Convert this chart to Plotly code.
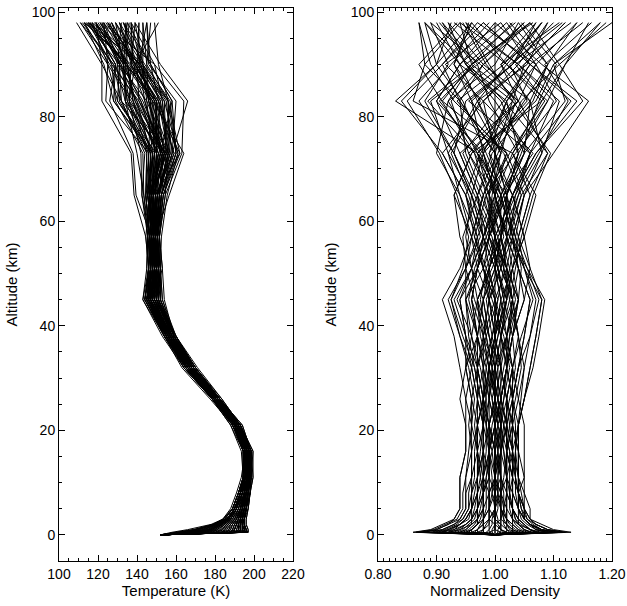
import plotly.graph_objects as go

# Altitude levels of the retrieved profiles (km)
ALTITUDE_KM = [0, 0.5, 1, 2, 3, 5, 8, 11, 16, 21, 26, 32, 38, 45, 51, 57, 65, 73, 83, 90, 98]

# Reference temperature profile (K) at each altitude level
T_REFERENCE = [152, 184, 187, 189, 191, 193, 195, 196.5, 196.5, 191, 180.5, 167, 157,
               148, 149, 148.5, 148.5, 152, 144, 137, 131]

# Temperature departures of each ensemble member from the reference (K)
TEMP_ANOMALY = [
    [0, 0, 0, 0, 0, 0, 0, 0, 0, 0, 0, 0, 0, 0, 0, 0, 0, 0, 0, 0, 0],
    [0, 12, 9, 6, 4, 3, 2, 2, 1, 2, 1, 0, -1, -2, 1, 2, 3, 5, 8, 4, 10],
    [0, -26, -21, -11, -7, -4, -3, -2, -2, -1, 0, 1, 2, 3, 0, -1, -3, -6, -20, -12, -20],
    [0, 8, 6, 4, 3, 2, 1, 1, 2, 1, 2, 3, 2, 5, 3, 2, 4, 8, 14, 10, 14],
    [0, 5, 3, 2, 1, 0, 0, -1, 0, -1, -2, -2, -1, -3, -2, 0, -2, -5, -4, -6, -8],
    [0, -15, -12, -8, -5, -3, -2, -1, -1, 0, 1, 2, 1, 0, 2, 3, 5, 10, 12, 6, 2],
    [0, 13, 10, 7, 5, 4, 3, 3, 3, 2, 3, 3, 2, 4, 1, -2, -4, -3, 4, -2, -6],
    [0, 2, 0, -1, -1, -1, 0, 0, -1, 1, 0, -1, -2, -4, -3, -2, 0, 3, -8, -4, 4],
    [0, -20, -16, -9, -6, -4, -3, -2, -2, -2, -1, -2, -3, -2, -1, 1, 2, -2, -14, -6, -12],
    [0, 10, 8, 5, 4, 3, 2, 1, 2, 3, 2, 1, 0, 1, 4, 3, -1, 1, 2, 8, 12],
    [0, -5, -6, -4, -3, -2, -1, -1, 0, 0, -1, 0, 1, 2, 1, -1, -9, -14, -18, -8, -15],
    [0, 7, 4, 3, 2, 2, 1, 0, -1, -2, -1, 1, 2, 6, 4, 3, 6, 11, 20, 12, 6],
    [0, -10, -9, -6, -4, -3, -2, -2, -3, -3, -2, -3, -2, -1, -3, -4, -2, 2, 6, 2, -4],
    [0, 11, 7, 5, 3, 3, 3, 2, 2, 1, 0, -1, -3, -4, -2, 0, 2, 4, -3, -10, -16],
    [0, 0, -2, -2, -1, 0, 1, 1, 1, 0, 1, 2, 3, 2, 3, 4, 7, 9, 10, 6, 8],
    [0, -24, -18, -10, -7, -5, -4, -3, -1, -1, -2, -3, -2, -3, -1, -2, -4, -7, -6, -2, -10],
    [0, 9, 6, 4, 2, 1, 0, 0, 1, 2, 3, 4, 3, 1, 0, 1, 3, -2, 6, 3, 2],
    [0, 4, 2, 1, 1, 0, -1, -2, -2, -1, 0, 0, -1, -2, -4, -3, -1, 3, -12, -15, -22],
    [0, -12, -10, -7, -4, -2, -1, 0, 1, 1, 2, 1, 0, 0, 2, 2, 4, 6, 16, 9, 14],
    [0, 12, 8, 6, 4, 3, 2, 1, 0, -1, -2, -2, -3, -5, -4, -3, -5, -12, -10, -4, -2],
    [0, -2, -3, -3, -2, -1, 0, 1, 2, 2, 1, 0, 1, 3, 2, 1, 8, 12, 4, 0, 6],
    [0, 6, 5, 3, 2, 2, 2, 2, 1, 0, -1, -1, 0, -2, 0, 2, 0, -4, -16, -8, -14],
    [0, -18, -14, -8, -5, -3, -2, -1, -1, -1, 0, 1, 2, 4, 3, 1, -1, 0, 2, 5, 6],
    [0, 13, 9, 6, 4, 3, 2, 1, 1, 1, 1, 2, 1, -1, -2, -1, 2, 5, 12, 14, 18],
    [0, 1, 1, 0, 0, 0, 1, 0, -1, -2, -3, -4, -3, -3, -1, 0, -3, -6, 3, -3, -4],
    [0, -7, -7, -5, -3, -2, -2, -1, 0, 1, 2, 3, 3, 3, 2, -1, 1, 7, 7, 2, 0],
    [0, 10, 7, 5, 4, 3, 3, 3, 2, 2, 1, 1, 0, 2, 1, 0, -2, -1, -6, -11, -18],
    [0, -22, -17, -10, -6, -4, -3, -2, -1, 0, 0, -1, -2, -4, -3, -2, -6, -10, -8, 0, 8],
    [0, 3, 3, 2, 1, 1, 0, 0, 0, -1, 0, 1, 1, 0, -1, 1, 4, 3, 10, 4, -6],
    [0, 8, 5, 3, 2, 1, 0, -1, -2, -2, -1, -2, -2, -3, -2, -3, -6, -8, -12, -6, 4],
    [0, -9, -7, -5, -3, -2, -1, 0, 0, 1, 1, 2, 2, 1, 0, 2, 3, 1, -3, 3, 10],
    [0, 11, 8, 5, 3, 2, 1, 1, 2, 3, 2, 2, 3, 5, 3, 2, 5, 9, 7, 10, 2],
    [0, -4, -4, -3, -2, -2, -2, -2, -2, -1, -2, -1, -1, -2, 0, 1, -1, -4, -14, -12, -8],
    [0, 6, 3, 2, 1, 1, 1, 1, 0, 0, 1, 0, -1, 0, 1, 0, 2, 4, 1, 6, 12],
    [0, -14, -11, -7, -5, -3, -2, -1, 0, 0, -1, -2, -1, -2, -2, -2, -1, -3, 6, 2, -2],
    [0, 12, 9, 6, 4, 4, 3, 2, 2, 1, 0, -1, -2, -1, 1, 3, 4, 6, 22, 15, 8],
    [0, -1, -2, -1, 0, 0, 0, 0, 1, 2, 2, 3, 2, 2, 3, 1, -1, -2, -2, -4, -10],
    [0, 9, 6, 4, 2, 1, 1, 0, -1, -1, -2, -3, -4, -5, -3, -4, -10, -15, -22, -15, -12],
    [0, -16, -13, -8, -5, -3, -2, -1, -1, -1, -1, 0, 1, 2, 2, 3, 6, 4, 12, 8, 16],
    [0, 4, 2, 1, 0, 0, 1, 2, 2, 1, 2, 2, 1, 0, -1, -1, 0, 2, -5, -2, 3],
    [0, 7, 5, 4, 3, 2, 2, 1, 0, -1, -1, -2, -1, -1, 1, 2, 1, -2, 8, 6, -2],
    [0, -11, -9, -6, -4, -3, -2, -2, -1, -1, 0, 0, -1, -3, -2, -2, -4, -6, -10, -3, -16],
    [0, 10, 7, 5, 3, 2, 1, 0, 0, 1, 1, 1, 2, 3, 2, 0, 2, 5, 3, 1, 6],
    [0, -3, -3, -2, -1, -1, -1, -1, -2, -3, -2, -2, -2, -1, 0, 1, 3, 2, -2, -7, 1],
    [0, 12, 9, 6, 4, 3, 2, 2, 3, 2, 2, 3, 3, 2, 1, -1, -3, -4, -8, 2, 20],
    [0, -8, -8, -5, -4, -3, -2, -1, 0, 0, 0, -1, 0, 1, -1, -3, -2, 0, 14, 10, 4],
    [0, 5, 3, 2, 2, 1, 1, 1, 1, 0, -1, 0, 0, -2, -1, 0, 1, 10, 5, -1, -8],
    [0, -19, -15, -9, -6, -4, -3, -2, -2, -2, -2, -3, -3, -4, -2, 0, -2, -5, -16, -14, -18],
    [0, 8, 6, 4, 3, 2, 1, 1, 0, 0, 0, 1, 0, 1, 1, 1, 1, -1, 0, 4, 14],
    [0, -13, -10, -6, -4, -3, -2, -1, -1, 0, 0, 1, 1, 3, 2, 0, 3, 4, 9, 3, -14],
    [0, 11, 8, 6, 4, 3, 2, 2, 2, 2, 2, 2, 1, 0, -1, -2, -1, 1, -4, -9, -20],
    [0, -6, -5, -4, -3, -2, -1, -1, -1, -2, -1, -1, 0, -1, -2, -1, 2, 6, 11, 5, -16],
    [0, 9, 7, 5, 3, 2, 2, 1, 1, 0, 1, 1, 2, 4, 3, 3, 1, -3, -9, -5, -12],
    [0, -21, -16, -9, -6, -4, -3, -2, -1, -1, -1, -2, -2, -3, -1, 1, 0, 2, 5, 0, -18],
    [0, 2, 1, 0, 0, 1, 1, 1, 0, 0, -1, -1, -2, -1, 0, -1, -3, -1, -7, -12, -14],
    [0, 13, 10, 7, 5, 4, 3, 2, 2, 2, 1, 0, 0, 1, 2, 2, 4, 7, 6, -3, -5],
    [0, -9, -8, -6, -4, -3, -2, -2, -1, 0, 1, 1, 0, -2, -3, -2, -5, -9, -15, -10, -12],
    [0, 6, 4, 3, 2, 1, 0, 0, 1, 1, 0, -1, -1, 0, 1, 2, 5, 8, 13, 7, 0],
    [0, -17, -13, -8, -5, -3, -2, -2, -2, -1, -2, -2, -3, -4, -3, -1, -2, -4, 1, -6, -17],
    [0, 10, 7, 5, 3, 3, 2, 1, 0, -1, -1, 0, 1, 2, 0, -2, 0, 3, 9, 12, -9],
    [0, -1, -1, -1, -1, 0, 0, 1, 1, 1, 2, 2, 2, 3, 1, 0, 1, -2, -5, -3, 5],
    [0, 7, 5, 3, 2, 2, 1, 1, 0, -1, -1, -2, -2, -3, -1, 1, 3, 1, -10, -8, -15],
    [0, -11, -9, -6, -4, -2, -1, 0, 0, 0, 1, 1, 2, 2, 1, 2, -1, -3, 3, 6, -10],
    [0, 12, 9, 6, 4, 3, 2, 2, 1, 1, 1, 2, 3, 4, 2, 0, -1, 0, 5, 2, -7],
    [0, -4, -4, -3, -2, -1, -1, -1, 0, 0, -1, -1, -2, -3, -2, -2, -4, -7, -12, -9, -19],
    [0, 4, 3, 2, 1, 1, 1, 0, 0, 1, 1, 0, -1, -1, 0, 1, 2, 4, 7, 1, -4],
    [0, -23, -18, -10, -7, -4, -3, -2, -1, -1, 0, 0, 1, 2, 1, 0, -3, -5, -9, -4, -11],
    [0, 8, 6, 4, 3, 2, 2, 1, 1, 0, 0, -1, -2, -2, 0, 1, 0, 3, 2, 5, -13],
    [0, -7, -6, -4, -3, -2, -2, -1, -1, -1, -1, 0, 0, 1, 1, -1, -2, 1, 4, -2, -15],
    [0, 11, 8, 5, 4, 3, 3, 2, 2, 1, 0, 0, -1, -2, -2, -3, -2, -5, -13, -7, -9],
    [0, -14, -11, -7, -5, -3, -2, -1, 0, 1, 1, 2, 2, 3, 3, 2, 4, 8, 12, 4, -6],
    [0, 3, 2, 1, 1, 1, 0, 0, -1, -1, 0, 0, 0, -1, 0, 0, 1, 2, -1, -5, -12],
    [0, 9, 6, 4, 3, 2, 1, 1, 1, 2, 2, 1, 0, -1, -1, 0, -2, -4, -6, -2, -17],
]

# Density departures of each ensemble member from the reference (percent)
DENSITY_ANOMALY_PCT = [
    [0, 0, 0, 0, 0, 0, 0, 0, 0, 0, 0, 0, 0, 0, 0, 0, 0, 0, 0, 0, 0],
    [0, 10, 8, 6, 5, 5, 5, 4, 4, 4, 5, 6, 7, 8, 5, 3, 2, -3, -8, -4, 6],
    [0, -13, -10, -8, -7, -6, -6, -6, -5, -5, -6, -5, -3, -2, -1, 1, 3, 6, 10, 4, -5],
    [0, 3, 2, 2, 1, 1, 1, 0, 0, 1, 2, 3, 2, 0, -2, -3, -5, -9, -16, -10, -12],
    [0, -5, -4, -3, -3, -2, -2, -2, -3, -3, -2, -1, 0, 2, 3, 4, 6, 3, 8, 12, 18],
    [0, 7, 6, 5, 4, 3, 3, 3, 2, 2, 1, 0, -2, -4, -3, -2, 1, 4, 2, -6, -10],
    [0, -8, -7, -5, -4, -4, -3, -3, -3, -4, -5, -6, -7, -9, -6, -4, -2, 1, -4, 3, 8],
    [0, 1, 1, 1, 0, 0, 0, 1, 1, 2, 3, 4, 5, 6, 4, 2, 0, -2, 6, 9, 4],
    [0, 12, 9, 7, 6, 5, 4, 4, 3, 2, 1, 0, -1, -2, 0, 1, 3, 7, 14, 6, -2],
    [0, -3, -2, -2, -1, -1, 0, 0, 1, 1, 0, -1, -2, -3, -4, -5, -4, -2, -10, -6, 2],
    [0, 5, 4, 3, 3, 3, 2, 2, 2, 3, 4, 5, 4, 3, 2, 0, -3, -6, 4, 1, 11],
    [0, -11, -9, -7, -6, -5, -5, -4, -4, -3, -2, 0, 2, 4, 3, 2, 4, 8, 6, -2, -8],
    [0, 2, 1, 0, 0, -1, -1, -1, -2, -2, -3, -4, -6, -8, -5, -3, 0, 3, -14, -12, -6],
    [0, -6, -5, -4, -3, -3, -2, -2, -1, 0, 1, 2, 3, 5, 6, 5, 3, -1, 2, 7, 14],
    [0, 9, 7, 6, 5, 4, 4, 5, 5, 5, 4, 3, 1, 0, -2, -4, -7, -4, 8, 2, -4],
    [0, -1, -1, -1, -1, 0, 0, 0, 0, -1, -1, -2, -2, -1, 1, 3, 5, 10, 16, 8, 0],
    [0, -9, -7, -6, -5, -4, -4, -3, -2, -2, -3, -3, -4, -5, -2, 0, -2, -5, -6, -12, -13],
    [0, 4, 3, 3, 2, 2, 2, 1, 0, -1, -2, -3, -3, -2, 0, 2, 2, 0, -2, 4, 9],
    [0, 13, 10, 8, 6, 6, 5, 5, 4, 4, 3, 2, 3, 4, 2, -1, -4, -8, -11, -3, 5],
    [0, -4, -3, -2, -2, -2, -1, -1, -1, 0, 0, 1, 0, -1, -2, -1, 1, 5, 12, 10, 20],
    [0, 6, 5, 4, 3, 2, 2, 2, 3, 3, 2, 1, -1, -3, -1, 1, 4, 6, 0, -5, -9],
    [0, -12, -10, -8, -6, -5, -5, -5, -4, -4, -4, -5, -5, -6, -4, -3, -6, -10, -8, 0, 4],
    [0, 0, 0, 0, 1, 1, 1, 2, 2, 2, 3, 4, 6, 7, 5, 4, 6, 9, 4, -4, -6],
    [0, 8, 6, 5, 4, 4, 3, 3, 3, 2, 2, 1, 0, 1, 3, 5, 3, 0, -6, -9, -3],
    [0, -7, -6, -4, -3, -3, -2, -1, -1, -1, 0, 0, -1, -2, -4, -6, -7, -4, 3, 5, 12],
    [0, 3, 3, 2, 2, 1, 1, 1, 1, 0, -1, -1, 0, 2, 2, 1, -1, -3, -17, -10, -4],
    [0, -2, -2, -2, -2, -1, -1, -2, -2, -3, -4, -5, -4, -3, -1, 1, 2, 4, 9, 12, 16],
    [0, 11, 8, 6, 5, 4, 3, 3, 2, 2, 1, 2, 3, 5, 4, 2, 0, -2, 2, 6, -2],
    [0, -10, -8, -6, -5, -4, -4, -4, -3, -2, -1, 0, 1, 2, 0, -2, -4, -7, -12, -8, -11],
    [0, 5, 4, 3, 2, 2, 1, 0, 0, 1, 1, 2, 2, 3, 1, -1, 2, 5, 6, 1, 7],
    [0, -5, -4, -3, -2, -1, -1, 0, 0, 0, 1, 1, 0, -1, -3, -4, -2, 1, -3, -6, -12],
    [0, 1, 0, 0, -1, -1, -1, 0, 1, 2, 2, 3, 4, 3, 1, 0, 3, 7, 15, 11, 6],
    [0, 7, 6, 5, 4, 3, 3, 2, 1, 0, -1, -2, -3, -4, -3, -2, -4, -7, -5, 3, 10],
    [0, -8, -6, -5, -4, -3, -3, -3, -2, -2, -2, -3, -2, 0, 2, 3, 1, -3, 4, 7, 2],
    [0, 2, 2, 1, 1, 1, 0, 0, 0, 0, 1, 2, 1, -1, -1, -2, 0, 2, -9, -4, 3],
    [0, -14, -11, -9, -7, -6, -6, -6, -5, -5, -5, -4, -3, -4, -3, -1, 2, 5, 1, -5, -8],
    [0, 9, 7, 6, 5, 4, 4, 4, 4, 3, 3, 4, 5, 6, 4, 3, 5, 8, 11, 4, -6],
    [0, -3, -3, -2, -2, -2, -2, -1, -1, -1, -2, -2, -3, -5, -5, -4, -6, -8, -3, 2, 8],
    [0, 4, 3, 2, 2, 1, 1, 1, 1, 1, 0, -1, 0, 1, 0, 1, 1, -1, 5, 9, 14],
    [0, -6, -5, -4, -4, -3, -3, -2, -2, -1, 0, 1, 2, 3, 2, 0, -1, 2, -7, -11, -13],
    [0, 6, 5, 4, 4, 3, 3, 3, 3, 4, 5, 6, 7, 8, 6, 4, 2, 0, 3, -1, -5],
    [0, -1, 0, 0, 0, 0, 1, 1, 0, -1, -2, -3, -5, -7, -4, -2, -3, -6, -10, -6, 0],
    [0, 10, 8, 6, 5, 5, 4, 3, 2, 1, 0, -1, -2, -1, 1, 2, 0, -3, 7, 10, 18],
    [0, -4, -4, -3, -3, -2, -2, -2, -1, 0, 1, 2, 3, 4, 2, 1, 2, 4, -1, -3, -9],
    [0, 2, 1, 1, 0, 0, 0, -1, -1, -2, -2, -1, 0, 0, -1, 0, 3, 6, 13, 6, 1],
    [0, -9, -8, -6, -5, -4, -3, -3, -3, -3, -3, -4, -5, -6, -3, -1, -1, 0, -6, -2, 6],
    [0, 7, 6, 4, 3, 3, 2, 2, 2, 3, 3, 3, 2, 1, 0, -2, -5, -9, -2, 5, 12],
    [0, -2, -2, -1, -1, 0, 0, 0, -1, -1, 0, 0, 1, 2, 3, 5, 7, 3, 9, 2, -7],
    [0, 12, 9, 7, 6, 5, 4, 4, 4, 3, 2, 1, 1, 3, 4, 3, 1, -2, -4, -7, -4],
    [0, -12.5, -9, -7, -5.5, -4.5, -4, -3.5, -3.5, -3, -2, -1.5, -0.5, 1.5, 2.5, 3.5, 5, 2, -3, 5.5, 9],
    [0, 8.5, 7, 5.5, 4.5, 4, 3.5, 3.5, 3, 2.5, 2, 3, 4.5, 6.5, 5, 2.5, -1, -4.5, 4, -2.5, -11],
    [0, -1.5, -1, -0.5, -0.5, 0, 0.5, 0.5, 0.5, 1, 1.5, 2.5, 1.5, -0.5, -2, -3.5, -1.5, 3.5, 10.5, 7, -3],
    [0, 4.5, 3.5, 2.5, 2, 1.5, 1.5, 1, 0.5, 0, -0.5, -1.5, -3, -4.5, -3.5, -1.5, 1.5, 6.5, -2, -8.5, 1],
    [0, -6.5, -5.5, -4.5, -3.5, -3, -2.5, -2, -1.5, -1.5, -1.5, -2.5, -4, -6.5, -4, -2, 0.5, -3.5, -11.5, -4, 6.5],
    [0, 11.5, 9, 7, 5.5, 5, 4.5, 4, 3.5, 3.5, 3, 2, 1, 2.5, 3.5, 4.5, 6.5, 9.5, 3, -5, 3.5],
    [0, -3.5, -3, -2.5, -2, -1.5, -1.5, -1.5, -1, -0.5, 0.5, 1.5, 2.5, 3, 1.5, 0.5, -2.5, -5.5, 1.5, 6, 15],
    [0, 2.5, 2, 1.5, 1.5, 1, 0.5, 0.5, 1, 1.5, 2.5, 3.5, 3, 1.5, 0.5, -0.5, -3.5, -7, -13, -7.5, -1],
    [0, -10.5, -8.5, -6.5, -5.5, -4.5, -4.5, -4, -4, -4.5, -4, -3, -1.5, 0.5, -1.5, -3.5, -5, -2.5, 5.5, 2.5, 11.5],
    [0, 6.5, 5, 4, 3.5, 3, 2.5, 2, 1.5, 1, 0.5, 0.5, -0.5, -1.5, 0.5, 2.5, 4.5, 1.5, -6.5, 1.5, 8],
    [0, -0.5, -0.5, 0, 0, 0.5, 0.5, 0, -0.5, -1.5, -2.5, -3.5, -4.5, -5, -3, -1, 1.5, 4.5, 7.5, 10.5, 4.5],
    [0, 9.5, 7.5, 6, 5, 4.5, 4, 3.5, 3.5, 4, 4.5, 5, 6, 7.5, 5.5, 3.5, 1.5, -1.5, -5.5, -10, -7.5],
    [0, -5.5, -4.5, -3.5, -3, -2.5, -2, -1.5, -0.5, 0.5, 1.5, 2, 2.5, 4, 4.5, 3.5, 0.5, -2.5, -9.5, -3.5, -9.5],
    [0, 3.5, 2.5, 2, 1.5, 1.5, 1, 1.5, 2, 2.5, 3.5, 4.5, 4, 2.5, 1.5, 0, -1.5, 2.5, 8.5, 3.5, 13],
    [0, -13.5, -10.5, -8.5, -6.5, -5.5, -5.5, -5, -4.5, -4, -3.5, -4.5, -6, -7.5, -5.5, -4.5, -6.5, -9.5, -15, -9, -2],
    [0, 1.5, 1, 0.5, 0.5, 0, -0.5, -0.5, -1, -1.5, -1, -0.5, 0.5, 1.5, 0.5, -1, -0.5, 1, 3.5, -1.5, -5.5],
    [0, 7.5, 6, 4.5, 3.5, 3, 2.5, 2.5, 2.5, 1.5, 0.5, -0.5, -1.5, -2.5, -1.5, 0.5, 3.5, 7.5, 12.5, 8.5, 16.5],
    [0, -7.5, -6.5, -5, -4, -3.5, -3, -2.5, -2, -2, -2.5, -3.5, -5.5, -7.5, -5, -2.5, -4.5, -7.5, -2.5, -7, -4.5],
    [0, 5.5, 4.5, 3.5, 3, 2.5, 2.5, 3, 3.5, 4, 5, 6.5, 7.5, 8.5, 5.5, 2.5, 3.5, 6, -4.5, 3, 7],
    [0, -2.5, -2, -1.5, -1, -1, -0.5, 0, 0.5, 0.5, 0, -0.5, -1.5, -3.5, -5, -5.5, -3, -0.5, 6.5, 9, 2.5],
    [0, 10.5, 8, 6.5, 5.5, 4.5, 4, 3.5, 2.5, 1.5, 0.5, -1, -2.5, -3, -0.5, 1.5, 0, -4.5, -7.5, -2, 5],
    [0, -4.5, -4, -3, -2.5, -2, -2, -2.5, -3, -3.5, -3, -2, -0.5, 0.5, 1.5, 2, 4.5, 9, 1.5, -4.5, -12],
    [0, 0.5, 0.5, 1, 1, 1.5, 2, 2, 1.5, 0.5, -0.5, 0.5, 2, 3.5, 2.5, 1, -1.5, -3.5, -9, -13, -6.5],
    [0, -9.5, -7.5, -6, -4.5, -4, -3.5, -3, -2.5, -2, -1.5, -1, 0.5, 2, 0.5, -1.5, -3, 0.5, 4.5, 11, 19],
]

# Axis ticks
ALT_TICKS = [0, 20, 40, 60, 80, 100]
TEMP_TICKS = [100, 120, 140, 160, 180, 200, 220]
DENS_TICKS = [0.80, 0.90, 1.00, 1.10, 1.20]
DENS_TICK_TEXT = ["0.80", "0.90", "1.00", "1.10", "1.20"]

FONT = "Liberation Sans, Arial, Helvetica, sans-serif"
LINE = dict(color="black", width=1)

fig = go.Figure()

for anom in TEMP_ANOMALY:
    temps = [t + a for t, a in zip(T_REFERENCE, anom)]
    fig.add_trace(go.Scatter(x=temps, y=ALTITUDE_KM, mode="lines", line=LINE,
                             xaxis="x", yaxis="y", hoverinfo="skip", showlegend=False))

for anom in DENSITY_ANOMALY_PCT:
    dens = [1 + a / 100 for a in anom]
    fig.add_trace(go.Scatter(x=dens, y=ALTITUDE_KM, mode="lines", line=LINE,
                             xaxis="x2", yaxis="y2", hoverinfo="skip", showlegend=False))

W, H = 627, 606
y_dom = [1 - 561 / H, 1 - 8 / H]
TITLE_FONT = dict(family=FONT, size=15, color="black")

common = dict(
    showline=True, linecolor="black", linewidth=1, mirror="ticks",
    ticks="inside", ticklen=6, tickwidth=1, tickcolor="black",
    showgrid=False, zeroline=False, automargin=False,
    tickfont=dict(family=FONT, size=14, color="black"),
)

yaxis_common = dict(
    common, range=[-5, 100.8], tickmode="array", tickvals=ALT_TICKS,
    ticktext=[str(v) for v in ALT_TICKS],
    minor=dict(dtick=5, tick0=0, ticks="inside", ticklen=3, tickcolor="black", showgrid=False),
    title=dict(text="Altitude (km)", font=TITLE_FONT, standoff=10),
)

fig.update_layout(
    width=W, height=H,
    margin=dict(l=0, r=0, t=0, b=0),
    paper_bgcolor="white", plot_bgcolor="white",
    showlegend=False,
    xaxis=dict(
        common, domain=[59 / W, 293 / W], anchor="y", range=[100, 220],
        tickmode="array", tickvals=TEMP_TICKS, ticktext=[str(v) for v in TEMP_TICKS],
        minor=dict(dtick=5, tick0=100, ticks="inside", ticklen=3, tickcolor="black", showgrid=False),
        title=dict(text="Temperature (K)", font=TITLE_FONT, standoff=1),
    ),
    yaxis=dict(yaxis_common, domain=y_dom, anchor="x"),
    xaxis2=dict(
        common, domain=[378 / W, 612 / W], anchor="y2", range=[0.8, 1.2],
        tickmode="array", tickvals=DENS_TICKS, ticktext=DENS_TICK_TEXT,
        minor=dict(dtick=0.01, tick0=0.8, ticks="inside", ticklen=3, tickcolor="black", showgrid=False),
        title=dict(text="Normalized Density", font=TITLE_FONT, standoff=1),
    ),
    yaxis2=dict(yaxis_common, domain=y_dom, anchor="x2"),
)

fig.write_html("out.html")
